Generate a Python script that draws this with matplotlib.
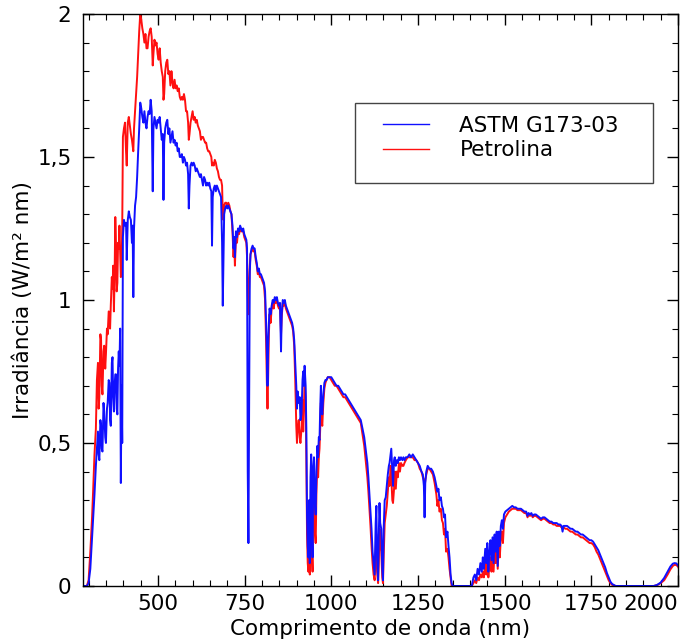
import numpy as np
import matplotlib
matplotlib.use("Agg")
import matplotlib.pyplot as plt
from matplotlib.patches import Rectangle
from matplotlib.ticker import MultipleLocator

# Wavelengths (nm), with the two spectra on the same grid
wavelength = [
    280, 295, 300, 305, 310, 313, 317, 321, 324, 327,
    329, 331, 334, 336, 338, 340, 343, 345, 348, 350,
    353, 355, 358, 360, 362, 364, 367, 369, 371, 373,
    375, 377, 379, 381, 383, 385, 387, 389, 391, 393,
    395, 397, 399, 402, 405, 408, 410, 413, 416, 419,
    422, 425, 427, 429, 431, 434, 437, 440, 443, 446,
    449, 452, 455, 458, 461, 464, 467, 470, 473, 476,
    479, 482, 485, 487, 490, 493, 496, 499, 502, 505,
    508, 511, 514, 516, 518, 521, 524, 527, 530, 533,
    536, 539, 542, 545, 548, 551, 554, 557, 560, 563,
    566, 569, 572, 575, 578, 581, 584, 587, 589, 591,
    594, 597, 600, 603, 606, 609, 612, 615, 618, 621,
    624, 627, 630, 633, 636, 639, 642, 645, 648, 651,
    654, 656, 658, 661, 664, 667, 670, 673, 676, 679,
    682, 685, 687, 689, 691, 694, 697, 700, 703, 706,
    709, 712, 715, 718, 720, 722, 725, 728, 731, 734,
    737, 740, 743, 746, 749, 752, 755, 757, 759, 761,
    763, 765, 767, 770, 773, 776, 779, 782, 785, 788,
    791, 794, 797, 800, 803, 806, 809, 812, 814, 816,
    818, 820, 822, 825, 828, 831, 834, 837, 840, 843,
    846, 849, 852, 855, 857, 860, 863, 866, 869, 872,
    875, 878, 881, 884, 887, 890, 893, 896, 899, 901,
    903, 906, 909, 911, 914, 917, 919, 921, 923, 926,
    928, 930, 932, 934, 936, 938, 940, 942, 944, 946,
    948, 950, 952, 955, 957, 960, 962, 964, 966, 968,
    970, 972, 974, 977, 980, 983, 986, 990, 995, 1000,
    1005, 1010, 1015, 1020, 1025, 1030, 1035, 1040, 1045, 1050,
    1055, 1060, 1065, 1070, 1075, 1080, 1085, 1090, 1095, 1100,
    1104, 1107, 1110, 1113, 1116, 1119, 1122, 1125, 1128, 1130,
    1132, 1135, 1137, 1139, 1141, 1144, 1147, 1149, 1151, 1154,
    1157, 1160, 1163, 1166, 1168, 1171, 1173, 1176, 1178, 1181,
    1183, 1186, 1189, 1192, 1195, 1198, 1201, 1205, 1208, 1211,
    1215, 1220, 1225, 1230, 1235, 1240, 1245, 1250, 1255, 1260,
    1264, 1267, 1269, 1271, 1274, 1278, 1283, 1288, 1293, 1298,
    1303, 1306, 1309, 1312, 1316, 1319, 1322, 1325, 1328, 1331,
    1335, 1338, 1341, 1344, 1347, 1350, 1405, 1410, 1414, 1418,
    1422, 1426, 1430, 1434, 1437, 1440, 1444, 1447, 1450, 1453,
    1456, 1459, 1462, 1465, 1468, 1471, 1474, 1477, 1480, 1483,
    1486, 1489, 1492, 1495, 1498, 1502, 1507, 1512, 1517, 1522,
    1527, 1532, 1537, 1542, 1547, 1552, 1557, 1562, 1566, 1569,
    1573, 1577, 1581, 1585, 1590, 1595, 1600, 1605, 1610, 1615,
    1620, 1625, 1630, 1635, 1640, 1645, 1650, 1655, 1660, 1664,
    1667, 1670, 1675, 1680, 1685, 1690, 1695, 1700, 1705, 1710,
    1715, 1720, 1725, 1730, 1735, 1740, 1745, 1750, 1755, 1760,
    1765, 1770, 1775, 1780, 1785, 1790, 1795, 1800, 1805, 1810,
    1820, 1930, 1940, 1950, 1960, 1970, 1978, 1985, 1990, 1995,
    2000, 2005,
]

# ASTM G173-03 reference spectrum (blue)
astm = [
    0, 0, 0.01, 0.06, 0.17, 0.24, 0.32, 0.42, 0.48, 0.54,
    0.46, 0.44, 0.58, 0.56, 0.48, 0.47, 0.64, 0.61, 0.52, 0.50,
    0.62, 0.64, 0.72, 0.71, 0.58, 0.56, 0.78, 0.80, 0.66, 0.61,
    0.70, 0.74, 0.74, 0.62, 0.60, 0.76, 0.82, 0.77, 0.90, 0.36,
    0.70, 0.50, 1.22, 1.28, 1.26, 1.27, 1.14, 1.28, 1.31, 1.29,
    1.28, 1.20, 1.26, 1.01, 1.25, 1.33, 1.36, 1.43, 1.52, 1.60,
    1.69, 1.67, 1.64, 1.62, 1.66, 1.62, 1.60, 1.64, 1.66, 1.65,
    1.70, 1.66, 1.38, 1.60, 1.64, 1.62, 1.60, 1.63, 1.62, 1.64,
    1.60, 1.56, 1.58, 1.35, 1.55, 1.60, 1.62, 1.63, 1.58, 1.60,
    1.55, 1.57, 1.59, 1.55, 1.56, 1.54, 1.55, 1.52, 1.53, 1.50,
    1.50, 1.51, 1.48, 1.50, 1.49, 1.47, 1.48, 1.44, 1.32, 1.40,
    1.47, 1.48, 1.47, 1.48, 1.47, 1.45, 1.46, 1.45, 1.44, 1.43,
    1.44, 1.42, 1.40, 1.43, 1.42, 1.40, 1.41, 1.40, 1.41, 1.39,
    1.38, 1.19, 1.36, 1.39, 1.40, 1.38, 1.40, 1.39, 1.38, 1.37,
    1.36, 1.20, 0.98, 1.15, 1.30, 1.32, 1.33, 1.32, 1.33, 1.32,
    1.31, 1.30, 1.26, 1.18, 1.22, 1.15, 1.24, 1.22, 1.25, 1.24,
    1.26, 1.25, 1.24, 1.25, 1.23, 1.22, 1.21, 1.18, 0.40, 0.15,
    0.60, 1.10, 1.16, 1.18, 1.19, 1.18, 1.18, 1.15, 1.13, 1.10,
    1.11, 1.09, 1.09, 1.08, 1.07, 1.06, 1.03, 0.92, 0.82, 0.70,
    0.85, 0.92, 0.97, 0.95, 0.98, 1.00, 0.99, 1.01, 1.00, 1.01,
    0.99, 0.98, 0.99, 0.82, 0.95, 1.00, 0.99, 1.00, 0.98, 0.97,
    0.96, 0.95, 0.94, 0.93, 0.92, 0.90, 0.86, 0.78, 0.70, 0.62,
    0.68, 0.64, 0.66, 0.58, 0.60, 0.72, 0.75, 0.70, 0.77, 0.70,
    0.55, 0.25, 0.14, 0.10, 0.30, 0.08, 0.38, 0.46, 0.20, 0.10,
    0.42, 0.45, 0.30, 0.25, 0.40, 0.49, 0.45, 0.52, 0.51, 0.62,
    0.70, 0.62, 0.60, 0.67, 0.71, 0.72, 0.72, 0.73, 0.73, 0.73,
    0.72, 0.71, 0.70, 0.70, 0.69, 0.68, 0.67, 0.67, 0.66, 0.65,
    0.64, 0.63, 0.62, 0.61, 0.60, 0.59, 0.58, 0.55, 0.52, 0.47,
    0.43, 0.38, 0.32, 0.26, 0.20, 0.12, 0.08, 0.04, 0.22, 0.28,
    0.10, 0.02, 0.18, 0.29, 0.22, 0.20, 0.06, 0.02, 0.20, 0.30,
    0.31, 0.35, 0.39, 0.42, 0.43, 0.46, 0.48, 0.40, 0.35, 0.44,
    0.45, 0.42, 0.44, 0.43, 0.45, 0.44, 0.45, 0.44, 0.45, 0.44,
    0.45, 0.45, 0.46, 0.45, 0.46, 0.45, 0.44, 0.43, 0.42, 0.40,
    0.39, 0.35, 0.24, 0.36, 0.40, 0.42, 0.41, 0.41, 0.40, 0.38,
    0.35, 0.33, 0.34, 0.30, 0.31, 0.28, 0.27, 0.24, 0.25, 0.17,
    0.19, 0.14, 0.10, 0.04, 0.01, 0, 0, 0.03, 0.04, 0.02,
    0.06, 0.04, 0.08, 0.05, 0.10, 0.06, 0.13, 0.08, 0.15, 0.05,
    0.12, 0.16, 0.09, 0.17, 0.08, 0.18, 0.12, 0.19, 0.07, 0.19,
    0.14, 0.21, 0.23, 0.20, 0.25, 0.26, 0.265, 0.27, 0.275, 0.28,
    0.275, 0.275, 0.27, 0.27, 0.27, 0.265, 0.26, 0.26, 0.245, 0.255,
    0.25, 0.255, 0.245, 0.25, 0.25, 0.245, 0.24, 0.235, 0.24, 0.24,
    0.235, 0.23, 0.225, 0.225, 0.22, 0.22, 0.22, 0.215, 0.215, 0.21,
    0.19, 0.21, 0.21, 0.21, 0.205, 0.20, 0.20, 0.195, 0.19, 0.19,
    0.185, 0.18, 0.18, 0.175, 0.17, 0.165, 0.16, 0.16, 0.155, 0.145,
    0.135, 0.125, 0.11, 0.095, 0.08, 0.065, 0.045, 0.03, 0.015, 0.007,
    0, 0, 0.004, 0.012, 0.028, 0.05, 0.068, 0.078, 0.08, 0.079,
    0.072, 0.06,
]

# Measured spectrum at Petrolina (red)
petrolina = [
    0, 0, 0.02, 0.12, 0.24, 0.33, 0.46, 0.55, 0.72, 0.78,
    0.62, 0.66, 0.88, 0.86, 0.70, 0.67, 0.82, 0.84, 0.76, 0.81,
    0.90, 0.88, 0.96, 0.93, 0.90, 0.98, 1.08, 1.04, 1.12, 0.96,
    1.08, 1.29, 1.20, 1.03, 1.06, 1.20, 1.18, 1.26, 1.17, 1.08,
    1.10, 1.25, 1.57, 1.60, 1.62, 1.52, 1.47, 1.62, 1.64, 1.61,
    1.58, 1.56, 1.54, 1.52, 1.60, 1.66, 1.72, 1.78, 1.86, 1.94,
    2.00, 1.98, 1.95, 1.93, 1.90, 1.93, 1.88, 1.88, 1.92, 1.94,
    1.95, 1.92, 1.82, 1.86, 1.91, 1.89, 1.90, 1.86, 1.84, 1.88,
    1.83, 1.80, 1.78, 1.70, 1.72, 1.80, 1.83, 1.84, 1.79, 1.80,
    1.75, 1.80, 1.76, 1.74, 1.77, 1.74, 1.75, 1.73, 1.74, 1.71,
    1.70, 1.71, 1.70, 1.72, 1.70, 1.66, 1.66, 1.62, 1.56, 1.58,
    1.62, 1.64, 1.66, 1.63, 1.64, 1.62, 1.63, 1.61, 1.60, 1.59,
    1.56, 1.57, 1.57, 1.56, 1.55, 1.55, 1.53, 1.52, 1.52, 1.51,
    1.50, 1.47, 1.48, 1.47, 1.49, 1.48, 1.46, 1.45, 1.43, 1.42,
    1.42, 1.40, 1.30, 1.28, 1.33, 1.34, 1.34, 1.33, 1.34, 1.33,
    1.31, 1.30, 1.24, 1.15, 1.20, 1.12, 1.22, 1.20, 1.24, 1.23,
    1.25, 1.24, 1.24, 1.24, 1.22, 1.21, 1.20, 1.15, 1.02, 0.95,
    1.05, 1.12, 1.16, 1.17, 1.18, 1.17, 1.17, 1.14, 1.12, 1.09,
    1.10, 1.08, 1.08, 1.07, 1.06, 1.05, 1.00, 0.85, 0.72, 0.62,
    0.74, 0.88, 0.95, 0.92, 0.97, 0.99, 0.97, 1.00, 0.99, 1.00,
    0.98, 0.97, 0.98, 0.88, 0.94, 0.99, 0.98, 0.99, 0.97, 0.96,
    0.95, 0.94, 0.93, 0.92, 0.91, 0.89, 0.84, 0.72, 0.56, 0.50,
    0.55, 0.58, 0.52, 0.50, 0.55, 0.65, 0.54, 0.62, 0.72, 0.66,
    0.45, 0.18, 0.08, 0.05, 0.15, 0.04, 0.22, 0.30, 0.12, 0.05,
    0.30, 0.35, 0.20, 0.15, 0.32, 0.44, 0.38, 0.45, 0.48, 0.55,
    0.64, 0.58, 0.56, 0.64, 0.69, 0.71, 0.72, 0.73, 0.73, 0.72,
    0.71, 0.70, 0.70, 0.69, 0.68, 0.67, 0.66, 0.66, 0.65, 0.64,
    0.63, 0.62, 0.61, 0.60, 0.59, 0.58, 0.57, 0.53, 0.49, 0.43,
    0.38, 0.33, 0.27, 0.21, 0.14, 0.08, 0.04, 0.02, 0.12, 0.18,
    0.05, 0.01, 0.08, 0.20, 0.15, 0.12, 0.03, 0.01, 0.10, 0.22,
    0.25, 0.28, 0.33, 0.38, 0.35, 0.42, 0.38, 0.30, 0.29, 0.34,
    0.40, 0.34, 0.40, 0.38, 0.43, 0.40, 0.43, 0.42, 0.42, 0.43,
    0.44, 0.45, 0.45, 0.45, 0.45, 0.44, 0.44, 0.43, 0.41, 0.40,
    0.38, 0.37, 0.34, 0.37, 0.39, 0.41, 0.41, 0.40, 0.39, 0.36,
    0.32, 0.28, 0.30, 0.26, 0.27, 0.23, 0.22, 0.18, 0.20, 0.12,
    0.13, 0.10, 0.06, 0.03, 0, 0, 0, 0.01, 0.02, 0.01,
    0.03, 0.02, 0.04, 0.03, 0.05, 0.03, 0.08, 0.04, 0.10, 0.03,
    0.08, 0.10, 0.05, 0.12, 0.05, 0.13, 0.08, 0.14, 0.06, 0.15,
    0.10, 0.17, 0.19, 0.15, 0.22, 0.24, 0.25, 0.26, 0.265, 0.27,
    0.27, 0.27, 0.265, 0.265, 0.265, 0.26, 0.255, 0.255, 0.24, 0.25,
    0.245, 0.25, 0.24, 0.245, 0.245, 0.24, 0.235, 0.23, 0.235, 0.235,
    0.23, 0.225, 0.22, 0.22, 0.215, 0.215, 0.21, 0.21, 0.21, 0.205,
    0.20, 0.205, 0.20, 0.20, 0.195, 0.19, 0.19, 0.185, 0.18, 0.18,
    0.175, 0.17, 0.17, 0.165, 0.16, 0.155, 0.15, 0.15, 0.145, 0.135,
    0.12, 0.11, 0.095, 0.08, 0.065, 0.05, 0.035, 0.02, 0.01, 0.004,
    0, 0, 0.003, 0.01, 0.02, 0.04, 0.058, 0.07, 0.074, 0.073,
    0.068, 0.055,
]

assert len(wavelength) == len(astm) == len(petrolina)

x_ticks = [500, 750, 1000, 1250, 1500, 1750, 2000]
y_ticks = [0, 0.5, 1, 1.5, 2]
y_tick_labels = ["0", "0,5", "1", "1,5", "2"]

fs = 15.5
plt.rcParams["font.family"] = ["DejaVu Sans"]

fig = plt.figure(figsize=(6.88, 6.44), dpi=100)
ax = fig.add_axes([0.1202, 0.0901, 0.8653, 0.8882])

# red first so the blue one sits on top where they overlap
l_red, = ax.plot(wavelength, petrolina, color="#ff1010", lw=1.4, label="Petrolina")
l_blue, = ax.plot(wavelength, astm, color="#1010ff", lw=1.4, label="ASTM G173-03")

ax.set_xlim(283, 2000)
ax.set_ylim(0, 2)

ax.set_xticks(x_ticks)
ax.set_xticklabels([str(t) for t in x_ticks])
ax.set_yticks(y_ticks)
ax.set_yticklabels(y_tick_labels)
ax.xaxis.set_minor_locator(MultipleLocator(50))
ax.yaxis.set_minor_locator(MultipleLocator(0.1))

ax.tick_params(which="both", direction="in", top=True, right=True, labelsize=fs)
ax.tick_params(which="major", length=8, width=1)
ax.tick_params(which="minor", length=4, width=0.8)
ax.tick_params(axis="x", pad=6)
ax.tick_params(axis="y", pad=8)

# last x label would fall off the figure, so pull it in
ax.get_xticklabels()[-1].set_horizontalalignment("right")

for sp in ax.spines.values():
    sp.set_linewidth(1.0)

ax.set_xlabel("Comprimento de onda (nm)", fontsize=fs)
ax.set_ylabel("Irradiância (W/m² nm)", fontsize=fs)
ax.xaxis.set_label_coords(0.5, -0.058)
ax.yaxis.set_label_coords(-0.084, 0.5)

# legend box drawn by hand, the padding in the original is wider than tall
ax.add_patch(Rectangle((0.4574, 0.7045), 0.5006, 0.1399, transform=ax.transAxes,
                       fill=False, edgecolor="#444444", lw=1.0, zorder=5))
leg = ax.legend(handles=[l_blue, l_red], loc="upper left",
                bbox_to_anchor=(0.5045, 0.822), frameon=False, fontsize=fs,
                borderpad=0, borderaxespad=0, handlelength=2.15,
                handletextpad=1.4, labelspacing=0.2)
for h in leg.get_lines():
    h.set_linewidth(1.0)

fig.savefig("out.png", dpi=100)
